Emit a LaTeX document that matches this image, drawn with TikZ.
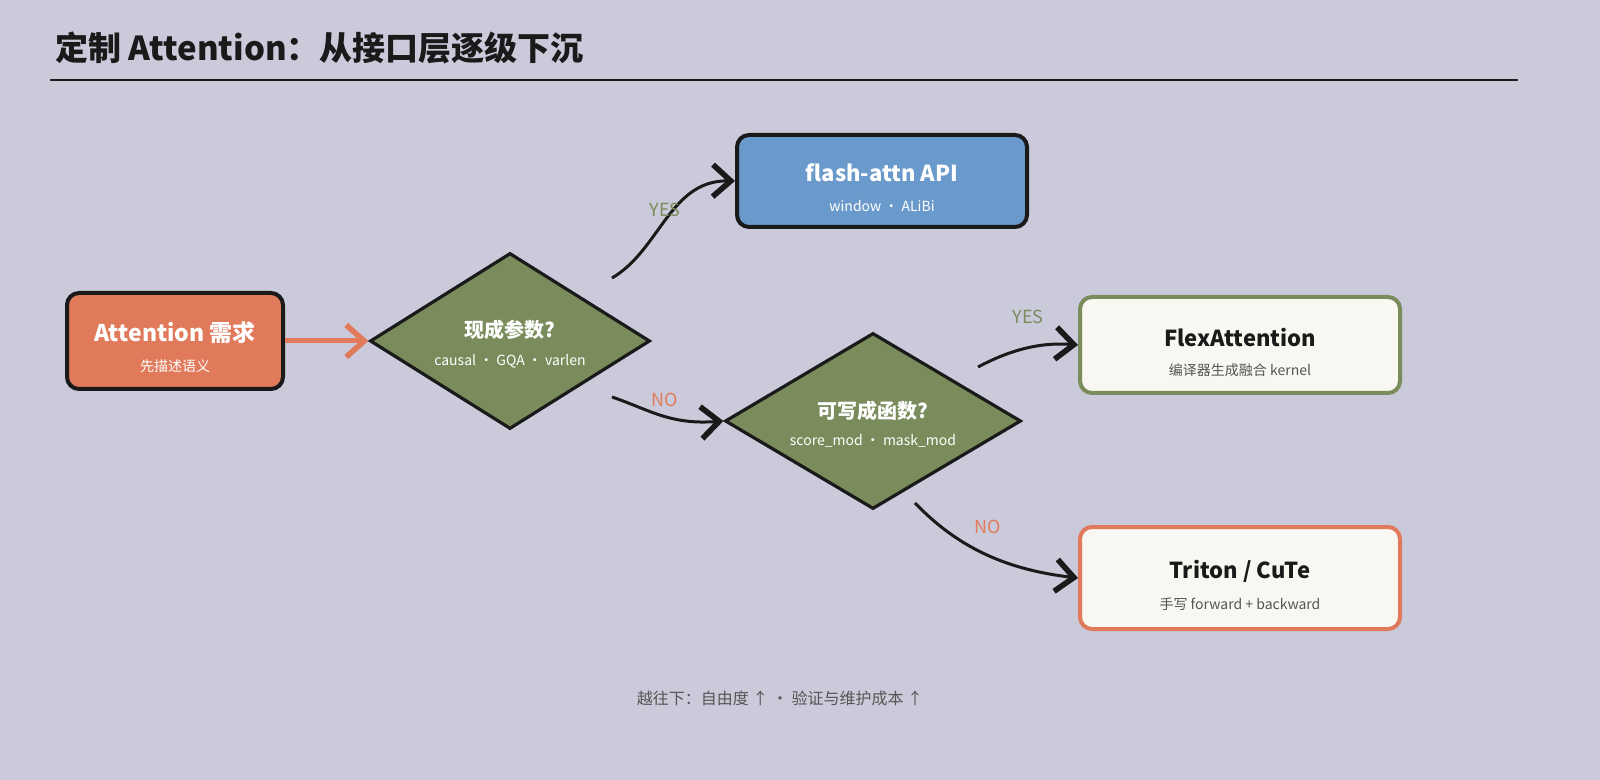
\documentclass[tikz,border=0pt]{standalone}
\usepackage{fontspec}
\setmainfont{Noto Sans CJK SC}
\usepackage{tikz}
\usetikzlibrary{shapes.geometric}
\usetikzlibrary{arrows.meta}
\definecolor{bgc}{HTML}{CBCADB}
\definecolor{orng}{HTML}{E07A5A}
\definecolor{olive}{HTML}{7A8C5C}
\definecolor{skyb}{HTML}{6A9ACB}
\definecolor{paper}{HTML}{F9F7F2}
\definecolor{txtg}{HTML}{555555}
\definecolor{ink}{HTML}{1A1A1A}
\begin{document}
\begin{tikzpicture}[x=0.5pt, y=-0.5pt,
  box/.style={draw=ink, line width=2pt, rounded corners=6pt, minimum width=108pt, minimum height=48pt, inner sep=0pt},
  dia/.style={diamond, draw=ink, line width=1.6pt, fill=olive, aspect=1.6, inner sep=0pt},
  flow/.style={draw=ink, line width=1.5pt, -{Straight Barb[length=9pt, width=16pt, line width=2.8pt]}},
  tag/.style={font=\fontsize{9}{10}\selectfont}]
			% Background and title
			\useasboundingbox (0,0) rectangle (1600,780);
			\fill[bgc] (0,0) rectangle (1600,780);
			\node[anchor=west, font=\fontsize{16.5}{18}\selectfont\bfseries, text=ink] (title) at (48,48) {定制 Attention：从接口层逐级下沉};
			\draw[ink, line width=1pt] (50,80) -- (1518,80);
			% Nodes
			\node[box, fill=orng, minimum width=108pt, minimum height=48pt] (need) at (175,341) {};
			\node[text=white, font=\fontsize{11.5}{13}\selectfont\bfseries] at (175,333) {Attention 需求};
			\node[text=white, font=\fontsize{7}{8}\selectfont] at (175,366) {先描述语义};
			\node[dia, minimum width=140pt, minimum height=88pt] (q1) at (510,341) {};
			\node[text=white, font=\fontsize{10}{12}\selectfont\bfseries] at (510,330) {现成参数?};
			\node[text=white, font=\fontsize{7}{8}\selectfont] at (510,361) {causal · GQA · varlen};
			\node[box, fill=skyb, minimum width=145pt, minimum height=46pt] (api) at (882,181) {};
			\node[text=white, font=\fontsize{11}{13}\selectfont\bfseries] at (882,173) {flash-attn API};
			\node[text=white, font=\fontsize{7}{8}\selectfont] at (882,206) {window · ALiBi};
			\node[dia, minimum width=148pt, minimum height=88pt] (q2) at (873,421) {};
			\node[text=white, font=\fontsize{10}{12}\selectfont\bfseries] at (873,411) {可写成函数?};
			\node[text=white, font=\fontsize{7}{8}\selectfont] at (873,441) {score\_mod · mask\_mod};
			\node[box, fill=paper, draw=olive, minimum width=160pt, minimum height=48pt] (flex) at (1240,345) {};
			\node[text=ink, font=\fontsize{11}{13}\selectfont\bfseries] at (1240,338) {FlexAttention};
			\node[text=txtg, font=\fontsize{7}{8}\selectfont] at (1240,370) {编译器生成融合 kernel};
			\node[box, fill=paper, draw=orng, minimum width=160pt, minimum height=51pt] (triton) at (1240,578) {};
			\node[text=ink, font=\fontsize{11}{13}\selectfont\bfseries] at (1240,571) {Triton / CuTe};
			\node[text=txtg, font=\fontsize{7}{8}\selectfont] at (1240,604) {手写 forward + backward};
			% Edges
			\draw[draw=orng, line width=2.5pt, -{Straight Barb[length=9pt, width=16pt, line width=2.8pt]}] (need) -- (q1);
			\draw[flow] (612,278) .. controls (660,250) and (670,180) .. (api.west);
			\node[tag, text=olive] at (665,210) {YES};
			\draw[flow] (612,397) .. controls (650,410) and (670,425) .. (q2.west);
			\node[tag, text=orng] at (665,400) {NO};
			\draw[flow] (978,367) .. controls (1010,350) and (1040,342) .. (flex.west);
			\node[tag, text=olive] at (1028,317) {YES};
			\draw[flow] (915,503) .. controls (960,550) and (1010,570) .. (triton.west);
			\node[tag, text=orng] at (988,527) {NO};
			% Footer
			\node[text=txtg, font=\fontsize{8}{10}\selectfont] (note) at (780,698) {越往下：自由度 ↑ · 验证与维护成本 ↑};
		\end{tikzpicture}
\end{document}
